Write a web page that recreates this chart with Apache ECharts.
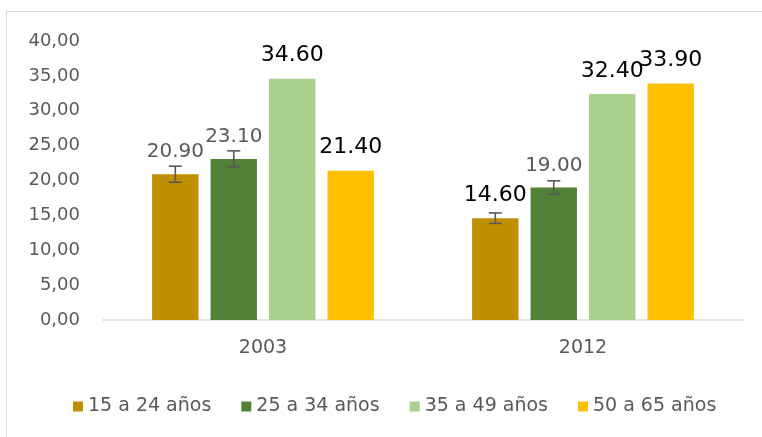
<!DOCTYPE html>
<html>
<head>
<meta charset="utf-8">
<script src="https://cdn.jsdelivr.net/npm/echarts@6/dist/echarts.min.js"></script>
<style>
  html, body { margin: 0; padding: 0; background: #fff; }
  #wrap { position: relative; width: 762px; height: 437px; }
  #frame { position: absolute; left: 6px; top: 11px; right: 0; bottom: 0;
           border-left: 1.5px solid #d9d9d9; border-top: 1.5px solid #d9d9d9; }
  #chart { position: absolute; left: 0; top: 0; width: 762px; height: 437px; }
</style>
</head>
<body>
<div id="wrap">
  <div id="frame"></div>
  <div id="chart"></div>
</div>
<script>
const categories = ['2003', '2012'];
const seriesNames = ['15 a 24 años', '25 a 34 años', '35 a 49 años', '50 a 65 años'];
const values15to24 = [20.9, 14.6];
const values25to34 = [23.1, 19.0];
const values35to49 = [34.6, 32.4];
const values50to65 = [21.4, 33.9];
// error bar half-widths (only the two youngest groups have them)
const errors15to24 = [1.15, 0.75];
const errors25to34 = [1.15, 0.95];

const allValues = [values15to24, values25to34, values35to49, values50to65];
const allErrors = [errors15to24, errors25to34, null, null];
const colors = ['#bf8f00', '#538135', '#a9d18e', '#ffc000'];
// labels drawn in grey, smaller (series index, category index)
const greyLabels = ['0-0', '1-0', '1-1'];

const FONT = 'DejaVu Sans';
const BAR_W = 0.145;
const BAR_GAP = 0.26;

const chart = echarts.init(document.getElementById('chart'));

const barSeries = allValues.map((vals, s) => ({
  name: seriesNames[s],
  type: 'bar',
  barWidth: (BAR_W * 100) + '%',
  barGap: (BAR_GAP * 100) + '%',
  itemStyle: { color: colors[s] },
  data: vals.map((v, c) => {
    const grey = greyLabels.includes(s + '-' + c);
    return {
      value: v,
      label: {
        show: true,
        position: 'top',
        distance: 12,
        formatter: (p) => p.value.toFixed(2),
        fontFamily: FONT,
        fontSize: grey ? 20 : 22,
        color: grey ? '#595959' : '#000000'
      }
    };
  })
}));

const errorSeries = allErrors
  .map((errs, s) => errs && {
    type: 'custom',
    z: 5,
    silent: true,
    data: errs.map((e, c) => [c, allValues[s][c], e]),
    renderItem: (params, api) => {
      const cat = api.value(0);
      const v = api.value(1);
      const e = api.value(2);
      const band = api.size([1, 0])[0];
      const bw = band * BAR_W;
      const total = 4 * bw + 3 * bw * BAR_GAP;
      const x = api.coord([cat, v])[0] - total / 2 + s * bw * (1 + BAR_GAP) + bw / 2;
      const yTop = api.coord([cat, v + e])[1];
      const yBot = api.coord([cat, v - e])[1];
      const style = { stroke: '#595959', lineWidth: 1.6 };
      const half = 6.5;
      return {
        type: 'group',
        children: [
          { type: 'line', shape: { x1: x, y1: yTop, x2: x, y2: yBot }, style },
          { type: 'line', shape: { x1: x - half, y1: yTop, x2: x + half, y2: yTop }, style },
          { type: 'line', shape: { x1: x - half, y1: yBot, x2: x + half, y2: yBot }, style }
        ]
      };
    }
  })
  .filter(Boolean);

chart.setOption({
  animation: false,
  grid: { left: 103, right: 19, top: 41, bottom: 117 },
  legend: {
    data: seriesNames,
    left: 68,
    top: 392,
    icon: 'rect',
    itemWidth: 10,
    itemHeight: 10,
    itemGap: 30,
    textStyle: { fontFamily: FONT, fontSize: 19, color: '#595959' }
  },
  xAxis: {
    type: 'category',
    data: categories,
    axisLine: { lineStyle: { color: '#d9d9d9', width: 1.5 } },
    axisTick: { show: false },
    axisLabel: { fontFamily: FONT, fontSize: 19, color: '#595959', margin: 19 }
  },
  yAxis: {
    type: 'value',
    min: 0,
    max: 40,
    interval: 5,
    splitLine: { show: false },
    axisLine: { show: false },
    axisTick: { show: false },
    axisLabel: {
      fontFamily: FONT,
      fontSize: 18,
      color: '#595959',
      margin: 23,
      formatter: (v) => v.toFixed(2).replace('.', ',')
    }
  },
  series: [...barSeries, ...errorSeries]
});
</script>
</body>
</html>
